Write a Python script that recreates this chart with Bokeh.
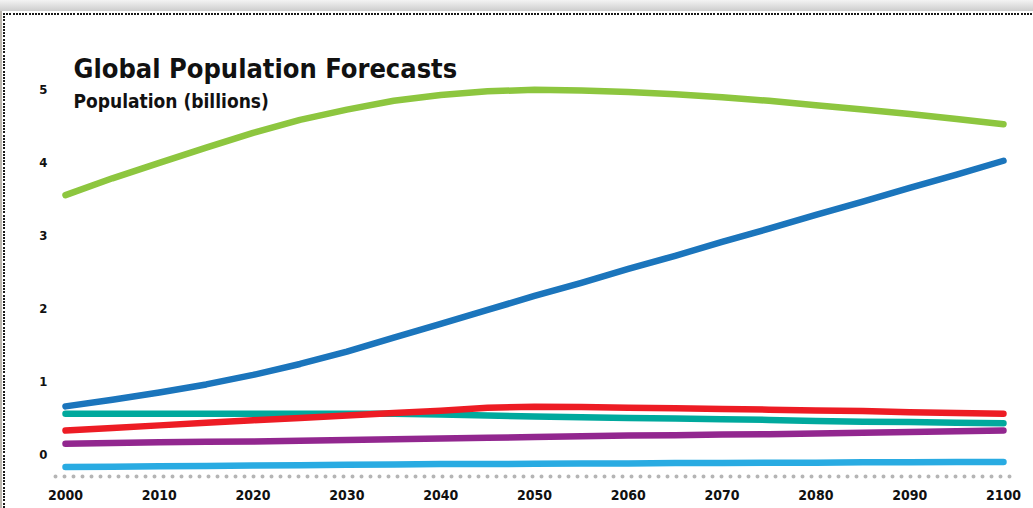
from bokeh.plotting import figure
from bokeh.models import Range1d, LinearAxis, FixedTicker, Label
from bokeh.embed import file_html
from bokeh.resources import INLINE

# ---- data (billions) ----
years = [2000, 2005, 2010, 2015, 2020, 2025, 2030, 2035, 2040, 2045, 2050,
         2055, 2060, 2065, 2070, 2075, 2080, 2085, 2090, 2095, 2100]
asia = [3.74, 3.97, 4.18, 4.39, 4.59, 4.77, 4.91, 5.03, 5.11, 5.16, 5.18,
        5.17, 5.15, 5.12, 5.08, 5.03, 4.97, 4.91, 4.85, 4.78, 4.71]
africa = [0.85, 0.94, 1.04, 1.15, 1.28, 1.43, 1.60, 1.79, 1.98, 2.17, 2.36,
          2.54, 2.73, 2.91, 3.10, 3.28, 3.47, 3.65, 3.84, 4.02, 4.21]
europe = [0.75, 0.75, 0.75, 0.75, 0.75, 0.75, 0.75, 0.75, 0.74, 0.725, 0.71,
          0.70, 0.69, 0.685, 0.675, 0.665, 0.65, 0.64, 0.635, 0.625, 0.62]
latin_america = [0.52, 0.555, 0.59, 0.625, 0.66, 0.69, 0.725, 0.76, 0.79, 0.83, 0.845,
                 0.84, 0.83, 0.825, 0.815, 0.805, 0.795, 0.785, 0.77, 0.76, 0.75]
northern_america = [0.34, 0.35, 0.36, 0.365, 0.37, 0.38, 0.39, 0.40, 0.41, 0.42, 0.43,
                    0.44, 0.45, 0.455, 0.465, 0.47, 0.48, 0.49, 0.50, 0.51, 0.52]
oceania = [0.02, 0.025, 0.03, 0.035, 0.04, 0.045, 0.05, 0.055, 0.06, 0.06, 0.065,
           0.07, 0.07, 0.075, 0.075, 0.08, 0.08, 0.085, 0.085, 0.09, 0.09]

y_ticks = [0, 1, 2, 3, 4, 5]
x_ticks = [2000, 2010, 2020, 2030, 2040, 2050, 2060, 2070, 2080, 2090, 2100]

title_text = "Global Population Forecasts"
subtitle_text = "Population (billions)"

FONT = "'DejaVu Sans Condensed', 'Liberation Sans', sans-serif"

p = figure(width=1033, height=508, output_backend="svg", toolbar_location=None,
           x_range=Range1d(1998.934, 2100.96), y_range=Range1d(-0.1094, 6.1286),
           y_axis_location=None,
           min_border_left=55, min_border_right=21, min_border_top=20, min_border_bottom=32)
p.outline_line_color = None
p.background_fill_color = "white"
p.border_fill_color = None
p.grid.visible = False

# page decoration behind the transparent border area:
# grey strip on top, dotted frame on top/left
p.styles = {
    "background-color": "white",
    "background-image": (
        "repeating-linear-gradient(to right, #1a1a1a 0px, #1a1a1a 2px, transparent 2px, transparent 3.2px), "
        "repeating-linear-gradient(to bottom, #1a1a1a 0px, #1a1a1a 2px, transparent 2px, transparent 3.2px), "
        "linear-gradient(to bottom, #f3f3f3, #cdcdcd), "
        "linear-gradient(#bcb7af, #bcb7af)"
    ),
    "background-size": "100% 2px, 2px 100%, 100% 11px, 2px 100%",
    "background-position": "3px 13px, 3px 13px, 0px 0px, 0px 0px",
    "background-repeat": "no-repeat",
}

# x axis: dotted grey baseline
xax = p.xaxis[0]
xax.ticker = FixedTicker(ticks=x_ticks)
xax.axis_line_color = "#b5b5b5"
xax.axis_line_width = 4
xax.axis_line_dash = "0 9"
xax.axis_line_cap = "round"
xax.major_tick_line_color = None
xax.minor_tick_line_color = None
xax.major_tick_out = 0
xax.major_tick_in = 0
xax.major_label_standoff = 13
xax.major_label_text_font = FONT
xax.major_label_text_font_style = "bold"
xax.major_label_text_font_size = "14px"
xax.major_label_text_color = "#111111"

# y axis labels (sit slightly above their values, as in the original)
p.extra_y_ranges = {"lab": Range1d(-0.3009, 5.9371)}
yax = LinearAxis(y_range_name="lab", ticker=FixedTicker(ticks=y_ticks))
yax.axis_line_color = None
yax.major_tick_line_color = None
yax.minor_tick_line_color = None
yax.major_tick_out = 0
yax.major_tick_in = 0
yax.major_label_standoff = 8
yax.major_label_text_font = FONT
yax.major_label_text_font_style = "bold"
yax.major_label_text_font_size = "13px"
yax.major_label_text_color = "#111111"
p.add_layout(yax, "left")

series = [
    (oceania, "#29abe2"),
    (northern_america, "#92278f"),
    (europe, "#00a99d"),
    (latin_america, "#ed1c24"),
    (africa, "#1b75bc"),
    (asia, "#8dc63f"),
]
for vals, col in series:
    p.line(years, vals, line_color=col, line_width=6.5,
           line_cap="round", line_join="round")

p.add_layout(Label(x=2000.85, y=5.472, text=title_text, text_font=FONT,
                   text_font_size="27px", text_font_style="bold",
                   text_color="#111111", text_baseline="alphabetic"))
p.add_layout(Label(x=2000.85, y=5.034, text=subtitle_text, text_font=FONT,
                   text_font_size="19px", text_font_style="bold",
                   text_color="#111111", text_baseline="alphabetic"))

open("out.html", "w").write(file_html(p, INLINE))
